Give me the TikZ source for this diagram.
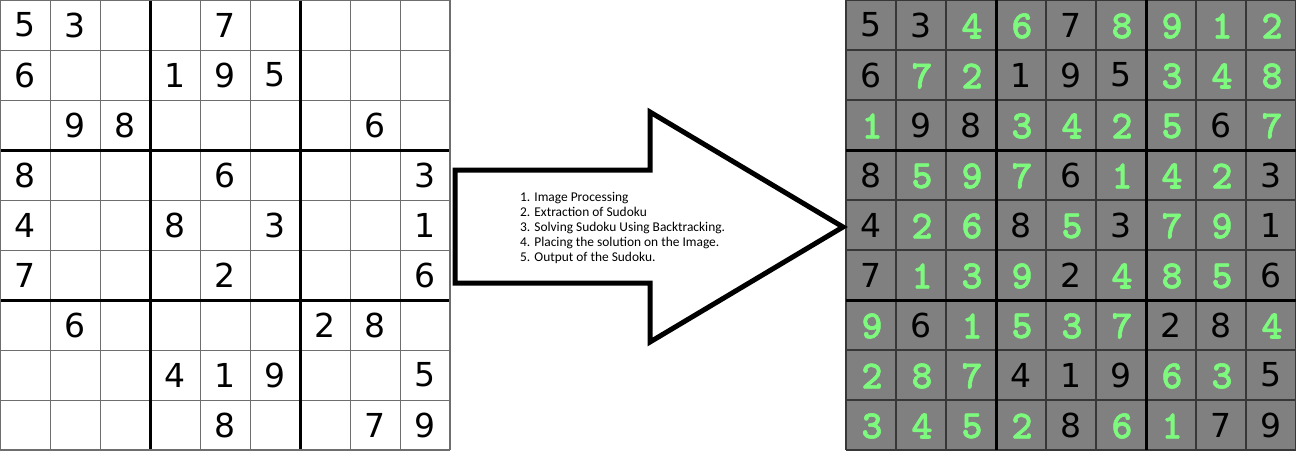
\documentclass[tikz,border=0pt]{standalone}
\usepackage{fontspec}
\setmainfont{DejaVu Sans}
\newfontfamily\stepfont{Carlito}
\newfontfamily\solvedfont[FakeBold=1.5]{lmmonolt10-bold.otf}
\definecolor{cellgray}{RGB}{128,128,128}
\definecolor{thingray}{RGB}{110,110,110}
\definecolor{darkline}{RGB}{55,55,55}
\definecolor{solvedgreen}{RGB}{125,250,125}
\begin{document}
\begin{tikzpicture}[x=1pt,y=-1pt,
  given/.style={font=\fontsize{33}{33}\selectfont, text=black, inner sep=0pt},
  solved/.style={font=\solvedfont\fontsize{40}{40}\selectfont, text=solvedgreen, inner sep=0pt},
  thinline/.style={line width=1pt},
  thickline/.style={line width=3pt, black},
  arrowshape/.style={line width=5pt, black, fill=white, line join=miter}]
\useasboundingbox (0,0) rectangle (1296,450);

% puzzle grid (left)
\foreach \i in {0,...,9} {
  \draw[thinline, thingray] (0,{\i*50}) -- (450,{\i*50});
  \draw[thinline, thingray] ({\i*50},0) -- ({\i*50},450);
}
\foreach \i in {3,6} {
  \draw[thickline] (0,{\i*50}) -- (450,{\i*50});
  \draw[thickline] ({\i*50},0) -- ({\i*50},450);
}
\draw[thinline, thingray] (0.5,0.5) rectangle (449.5,449.5);

% solved grid (right)
\fill[cellgray] (846,0) rectangle (1296,450);
\foreach \i in {0,...,9} {
  \draw[line width=1.5pt, darkline] (846,{\i*50}) -- (1296,{\i*50});
  \draw[line width=1.5pt, darkline] ({846+\i*50},0) -- ({846+\i*50},450);
}
\foreach \i in {3,6} {
  \draw[thickline] (846,{\i*50}) -- (1296,{\i*50});
  \draw[thickline] ({846+\i*50},0) -- ({846+\i*50},450);
}

% puzzle clues: row/column/digit
\foreach \r/\c/\d in {1/1/5,1/2/3,1/5/7,
  2/1/6,2/4/1,2/5/9,2/6/5,
  3/2/9,3/3/8,3/8/6,
  4/1/8,4/5/6,4/9/3,
  5/1/4,5/4/8,5/6/3,5/9/1,
  6/1/7,6/5/2,6/9/6,
  7/2/6,7/7/2,7/8/8,
  8/4/4,8/5/1,8/6/9,8/9/5,
  9/5/8,9/8/7,9/9/9} {
  \node[given] (L-\r-\c) at ({\c*50-25},{\r*50-25}) {\d};
  \node[given] (R-\r-\c) at ({846+\c*50-25},{\r*50-25}) {\d};
}

% filled-in digits
\foreach \r/\c/\d in {1/3/4,1/4/6,1/6/8,1/7/9,1/8/1,1/9/2,
  2/2/7,2/3/2,2/7/3,2/8/4,2/9/8,
  3/1/1,3/4/3,3/5/4,3/6/2,3/7/5,3/9/7,
  4/2/5,4/3/9,4/4/7,4/6/1,4/7/4,4/8/2,
  5/2/2,5/3/6,5/5/5,5/7/7,5/8/9,
  6/2/1,6/3/3,6/4/9,6/6/4,6/7/8,6/8/5,
  7/1/9,7/3/1,7/4/5,7/5/3,7/6/7,7/9/4,
  8/1/2,8/2/8,8/3/7,8/7/6,8/8/3,
  9/1/3,9/2/4,9/3/5,9/4/2,9/6/6,9/7/1} {
  \node[solved] (R-\r-\c) at ({846+\c*50-24},{\r*50-24}) {\d};
}

% block arrow with the processing steps
\draw[arrowshape] (455,170) -- (650,170) -- (650,112) -- (843,227)
  -- (650,342) -- (650,283) -- (455,283) -- cycle;
\node[anchor=north west, inner sep=0pt, align=left,
  font=\stepfont\fontsize{13.4}{15}\selectfont] (steps) at (520,192) {%
  1. Image Processing\\
  2. Extraction of Sudoku\\
  3. Solving Sudoku Using Backtracking.\\
  4. Placing the solution on the Image.\\
  5. Output of the Sudoku.};
\end{tikzpicture}
\end{document}
